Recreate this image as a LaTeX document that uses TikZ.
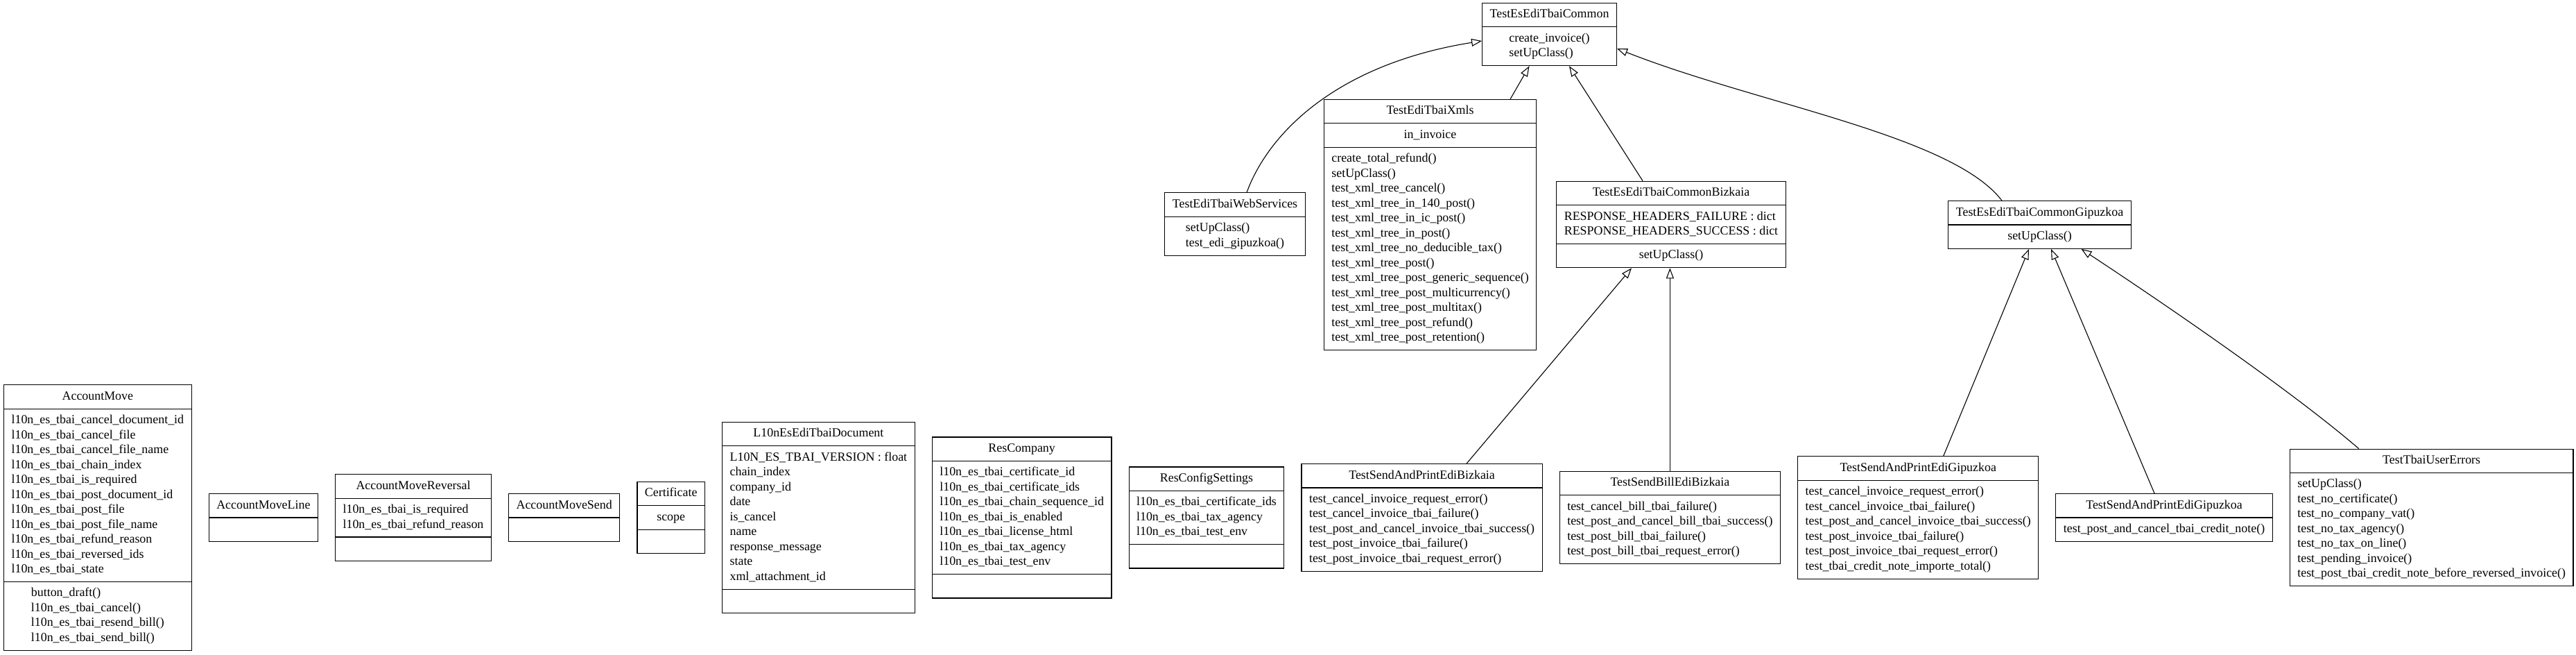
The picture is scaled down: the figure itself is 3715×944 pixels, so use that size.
\documentclass[tikz,border=0pt]{standalone}
\usepackage{fontspec}
\setmainfont{Liberation Serif}
\usetikzlibrary{shapes.multipart,arrows.meta,positioning,calc}
\newcommand{\umlfont}{\fontsize{17.9pt}{21.5pt}\selectfont}
\newcommand{\blk}[1]{{\umlfont\begin{tabular}{@{}l@{}}#1\end{tabular}}}
\newcommand{\emp}{{\umlfont\strut}}
\tikzset{
  umlclass/.style={draw, line width=1.15pt, rectangle split, rectangle split part align=center,
    inner xsep=11pt, inner ysep=5.85pt, fill=white},
  parts2/.style={umlclass, rectangle split parts=2},
  parts3/.style={umlclass, rectangle split parts=3},
  inh/.style={line width=1.1pt, -{Triangle[open, length=15pt, width=11pt, line width=1.1pt]}},
}
\begin{document}
\begin{tikzpicture}[x=1pt,y=1pt]
\useasboundingbox (0,0) rectangle (3715,-944);
% ---------- bottom row ----------
\node[parts3, anchor=west] (am) at (5,-746) {\blk{AccountMove}
 \nodepart{two}\blk{l10n\_es\_tbai\_cancel\_document\_id\\l10n\_es\_tbai\_cancel\_file\\l10n\_es\_tbai\_cancel\_file\_name\\l10n\_es\_tbai\_chain\_index\\l10n\_es\_tbai\_is\_required\\l10n\_es\_tbai\_post\_document\_id\\l10n\_es\_tbai\_post\_file\\l10n\_es\_tbai\_post\_file\_name\\l10n\_es\_tbai\_refund\_reason\\l10n\_es\_tbai\_reversed\_ids\\l10n\_es\_tbai\_state}
 \nodepart{three}\blk{button\_draft()\\l10n\_es\_tbai\_cancel()\\l10n\_es\_tbai\_resend\_bill()\\l10n\_es\_tbai\_send\_bill()}};
\node[parts2, right=24pt of am] (aml) {\blk{AccountMoveLine}\nodepart{two}\emp};
\node[parts3, right=24pt of aml] (amr) {\blk{AccountMoveReversal}
 \nodepart{two}\blk{l10n\_es\_tbai\_is\_required\\l10n\_es\_tbai\_refund\_reason}
 \nodepart{three}\emp};
\node[parts2, right=24pt of amr] (ams) {\blk{AccountMoveSend}\nodepart{two}\emp};
\node[parts3, right=24pt of ams] (cert) {\blk{Certificate}\nodepart{two}\blk{scope}\nodepart{three}\emp};
\node[parts3, right=24pt of cert] (doc) {\blk{L10nEsEdiTbaiDocument}
 \nodepart{two}\blk{L10N\_ES\_TBAI\_VERSION : float\\chain\_index\\company\_id\\date\\is\_cancel\\name\\response\_message\\state\\xml\_attachment\_id}
 \nodepart{three}\emp};
\node[parts3, right=24pt of doc] (rc) {\blk{ResCompany}
 \nodepart{two}\blk{l10n\_es\_tbai\_certificate\_id\\l10n\_es\_tbai\_certificate\_ids\\l10n\_es\_tbai\_chain\_sequence\_id\\l10n\_es\_tbai\_is\_enabled\\l10n\_es\_tbai\_license\_html\\l10n\_es\_tbai\_tax\_agency\\l10n\_es\_tbai\_test\_env}
 \nodepart{three}\emp};
\node[parts3, right=24pt of rc] (rcs) {\blk{ResConfigSettings}
 \nodepart{two}\blk{l10n\_es\_tbai\_certificate\_ids\\l10n\_es\_tbai\_tax\_agency\\l10n\_es\_tbai\_test\_env}
 \nodepart{three}\emp};
\node[parts2, right=24pt of rcs] (sapb) {\blk{TestSendAndPrintEdiBizkaia}
 \nodepart{two}\blk{test\_cancel\_invoice\_request\_error()\\test\_cancel\_invoice\_tbai\_failure()\\test\_post\_and\_cancel\_invoice\_tbai\_success()\\test\_post\_invoice\_tbai\_failure()\\test\_post\_invoice\_tbai\_request\_error()}};
\node[parts2, right=24pt of sapb] (sbb) {\blk{TestSendBillEdiBizkaia}
 \nodepart{two}\blk{test\_cancel\_bill\_tbai\_failure()\\test\_post\_and\_cancel\_bill\_tbai\_success()\\test\_post\_bill\_tbai\_failure()\\test\_post\_bill\_tbai\_request\_error()}};
\node[parts2, right=24pt of sbb] (sapg) {\blk{TestSendAndPrintEdiGipuzkoa}
 \nodepart{two}\blk{test\_cancel\_invoice\_request\_error()\\test\_cancel\_invoice\_tbai\_failure()\\test\_post\_and\_cancel\_invoice\_tbai\_success()\\test\_post\_invoice\_tbai\_failure()\\test\_post\_invoice\_tbai\_request\_error()\\test\_tbai\_credit\_note\_importe\_total()}};
\node[parts2, right=24pt of sapg] (sapgb) {\blk{TestSendAndPrintEdiGipuzkoa}
 \nodepart{two}\blk{test\_post\_and\_cancel\_tbai\_credit\_note()}};
\node[parts2, right=24pt of sapgb] (ue) {\blk{TestTbaiUserErrors}
 \nodepart{two}\blk{setUpClass()\\test\_no\_certificate()\\test\_no\_company\_vat()\\test\_no\_tax\_agency()\\test\_no\_tax\_on\_line()\\test\_pending\_invoice()\\test\_post\_tbai\_credit\_note\_before\_reversed\_invoice()}};
% ---------- middle row ----------
\node[parts2] (ws) at (1781,-323) {\blk{TestEdiTbaiWebServices}
 \nodepart{two}\blk{setUpClass()\\test\_edi\_gipuzkoa()}};
\node[parts3] (xmls) at (2062.5,-324) {\blk{TestEdiTbaiXmls}
 \nodepart{two}\blk{in\_invoice}
 \nodepart{three}\blk{create\_total\_refund()\\setUpClass()\\test\_xml\_tree\_cancel()\\test\_xml\_tree\_in\_140\_post()\\test\_xml\_tree\_in\_ic\_post()\\test\_xml\_tree\_in\_post()\\test\_xml\_tree\_no\_deducible\_tax()\\test\_xml\_tree\_post()\\test\_xml\_tree\_post\_generic\_sequence()\\test\_xml\_tree\_post\_multicurrency()\\test\_xml\_tree\_post\_multitax()\\test\_xml\_tree\_post\_refund()\\test\_xml\_tree\_post\_retention()}};
\node[parts3] (bizk) at (2410,-323.5) {\blk{TestEsEdiTbaiCommonBizkaia}
 \nodepart{two}\blk{RESPONSE\_HEADERS\_FAILURE : dict\\RESPONSE\_HEADERS\_SUCCESS : dict}
 \nodepart{three}\blk{setUpClass()}};
\node[parts2] (gip) at (2941.5,-324) {\blk{TestEsEdiTbaiCommonGipuzkoa}
 \nodepart{two}\blk{setUpClass()}};
% ---------- top ----------
\node[parts2] (common) at (2234.5,-49.5) {\blk{TestEsEdiTbaiCommon}
 \nodepart{two}\blk{create\_invoice()\\setUpClass()}};
% ---------- inheritance ----------
\draw[inh] ($(ws.north)+(17,0)$) .. controls (1830,-190) and (1930,-92) .. ($(common.west)+(0,-9.5)$);
\draw[inh] ($(xmls.north)+(115.5,0)$) -- ($(common.south)+(-29,0)$);
\draw[inh] ($(bizk.north)+(-41,0)$) -- ($(common.south)+(28.5,0)$);
\draw[inh] ($(gip.north)+(-54.5,0)$) .. controls (2815,-195) and (2535,-150) .. ($(common.east)+(0,-20.5)$);
\draw[inh] ($(sapb.north)+(64.5,0)$) -- ($(bizk.south)+(-57,0)$);
\draw[inh] (sbb.north) -- (sbb.north |- bizk.south);
\draw[inh] ($(sapg.north)+(36.5,0)$) -- ($(gip.south)+(-15.5,0)$);
\draw[inh] ($(sapgb.north)+(-14,0)$) -- ($(gip.south)+(16.5,0)$);
\draw[inh] ($(ue.north)+(-105,0)$) .. controls (3301,-560) and (3111,-431) .. ($(gip.south)+(60,0)$);
\end{tikzpicture}
\end{document}
